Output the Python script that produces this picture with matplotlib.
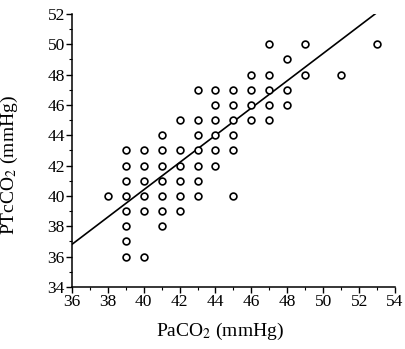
import matplotlib
matplotlib.use("Agg")
import matplotlib.pyplot as plt
import numpy as np

paco2 = [38,
         39, 39, 39, 39, 39, 39, 39, 39,
         40, 40, 40, 40, 40, 40,
         41, 41, 41, 41, 41, 41, 41,
         42, 42, 42, 42, 42, 42,
         43, 43, 43, 43, 43, 43, 43,
         44, 44, 44, 44, 44, 44,
         45, 45, 45, 45, 45, 45,
         46, 46, 46, 46,
         47, 47, 47, 47, 47,
         48, 48, 48,
         49, 49,
         51, 53]
ptcco2 = [40,
          43, 42, 41, 40, 39, 38, 37, 36,
          43, 42, 41, 40, 39, 36,
          44, 43, 42, 41, 40, 39, 38,
          45, 43, 42, 41, 40, 39,
          47, 45, 44, 43, 42, 41, 40,
          47, 46, 45, 44, 43, 42,
          47, 46, 45, 44, 43, 40,
          48, 47, 46, 45,
          50, 48, 47, 46, 45,
          49, 47, 46,
          50, 48,
          48, 50]
fit_slope = 0.90
fit_intercept = 4.4
fit_range = [36, 53]

plt.rcParams['font.family'] = ['Liberation Serif', 'DejaVu Serif']
plt.rcParams['mathtext.fontset'] = 'stix'
fig = plt.figure(figsize=(4.06, 3.49), dpi=100)
ax = fig.add_axes([0.177, 0.178, 0.796, 0.782])

ax.scatter(paco2, ptcco2, s=24, facecolors='white', edgecolors='black', linewidths=1.2, zorder=3)
xl = np.array(fit_range, dtype=float)
ax.plot(xl, fit_slope * xl + fit_intercept, color='black', lw=1.2, zorder=2)

ax.set_xlim(36, 54)
ax.set_ylim(34, 52)
ax.set_xticks(np.arange(36, 55, 2))
ax.set_yticks(np.arange(34, 53, 2))
ax.set_xticks(np.arange(36, 55, 1), minor=True)
ax.set_yticks(np.arange(34, 53, 1), minor=True)
ax.spines['top'].set_visible(False)
ax.spines['right'].set_visible(False)
for s in ['left', 'bottom']:
    ax.spines[s].set_linewidth(1.1)
ax.tick_params(which='major', direction='out', length=4, width=1, labelsize=12.5, pad=1)
ax.tick_params(which='minor', direction='out', length=2, width=0.8)
ax.set_xlabel('PaCO$_2$ (mmHg)', fontsize=14)
ax.set_ylabel('PTcCO$_2$ (mmHg)', fontsize=14)
ax.xaxis.set_label_coords(0.458, -0.125)
ax.yaxis.set_label_coords(-0.16, 0.447)

fig.savefig('out.png', dpi=100)
